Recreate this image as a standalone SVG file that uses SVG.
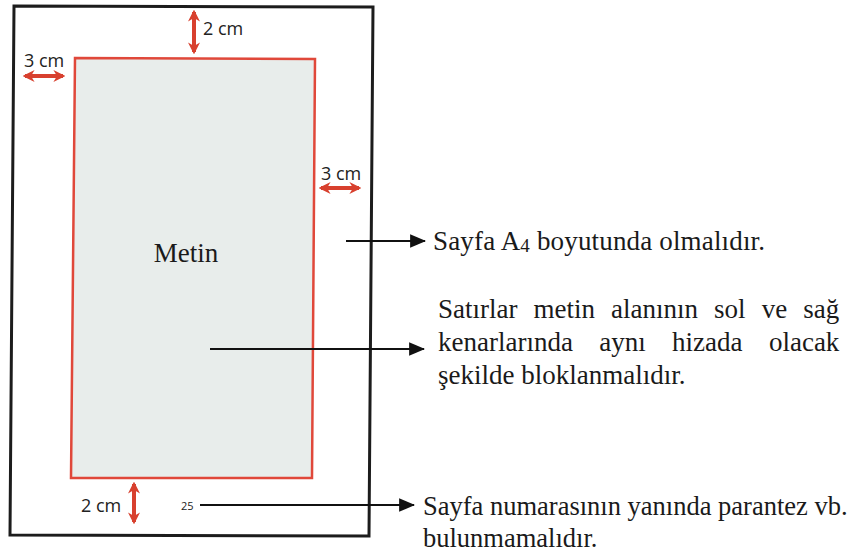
<svg xmlns="http://www.w3.org/2000/svg" width="856" height="556" viewBox="0 0 856 556">
<style>
.lbl{font-family:"Open Sans","Liberation Sans",sans-serif;font-size:18px;fill:#222}
.srf{font-family:"Liberation Serif","Times New Roman",serif;font-size:27px;fill:#1a1a1a}
.red{stroke:#d8402e;stroke-width:4;fill:none;marker-start:url(#rh);marker-end:url(#rh)}
.blk{stroke:#111;stroke-width:2;fill:none;marker-end:url(#bh)}
</style>
<defs>
<marker id="rh" viewBox="0 0 10 10" refX="8" refY="5" markerWidth="3" markerHeight="3" orient="auto-start-reverse" markerUnits="strokeWidth">
<path d="M0,0 L10,5 L0,10 L3,5 Z" fill="#d8402e"/>
</marker>
<marker id="bh" viewBox="0 0 14 12" refX="13" refY="6" markerWidth="8" markerHeight="7" orient="auto" markerUnits="strokeWidth">
<path d="M0,0 L14,6 L0,12 Z" fill="#111"/>
</marker>
</defs>
<rect width="856" height="556" fill="#ffffff"/>
<g id="page">
<polygon points="14,6 373,7 369,536 10,535" fill="#ffffff" stroke="#1c1c1c" stroke-width="3"/>
</g>
<g id="textarea">
<polygon points="75,58 315,59 312,478 71,478" fill="#e8edeb" stroke="#e0483a" stroke-width="2.5"/>
<text class="srf" x="186" y="262" text-anchor="middle">Metin</text>
</g>
<g id="margins">
<line class="red" x1="194" y1="12" x2="194" y2="52"/>
<text class="lbl" x="203" y="35">2 cm</text>
<line class="red" x1="25" y1="76" x2="63" y2="76"/>
<text class="lbl" x="24" y="67">3 cm</text>
<line class="red" x1="321" y1="188" x2="359" y2="188"/>
<text class="lbl" x="321" y="180">3 cm</text>
<line class="red" x1="134" y1="484" x2="134" y2="522"/>
<text class="lbl" x="81" y="512">2 cm</text>
<text id="pagenum" x="181" y="510" style="font-family:'Open Sans','Liberation Sans',sans-serif;font-size:11px;fill:#222">25</text>
</g>
<g id="connectors">
<line class="blk" x1="346" y1="241" x2="425" y2="241"/>
<line class="blk" x1="210" y1="349" x2="424" y2="349"/>
<line class="blk" x1="200" y1="505" x2="414" y2="505"/>
</g>
<g id="note1">
<text class="srf" x="433" y="250" textLength="332">Sayfa A<tspan font-size="19" dy="2">4</tspan><tspan dy="-2"> boyutunda olmalıdır.</tspan></text>
</g>
<g id="note2">
<text class="srf" x="438" y="318" word-spacing="9.3">Satırlar metin alanının sol ve sağ</text>
<text class="srf" x="438" y="351" word-spacing="19.6">kenarlarında aynı hizada olacak</text>
<text class="srf" x="438" y="384">şekilde bloklanmalıdır.</text>
</g>
<g id="note3">
<text class="srf" x="423" y="515" style="font-size:26.5px">Sayfa numarasının yanında parantez vb.</text>
<text class="srf" x="423" y="547" style="font-size:26.5px">bulunmamalıdır.</text>
</g>
</svg>
